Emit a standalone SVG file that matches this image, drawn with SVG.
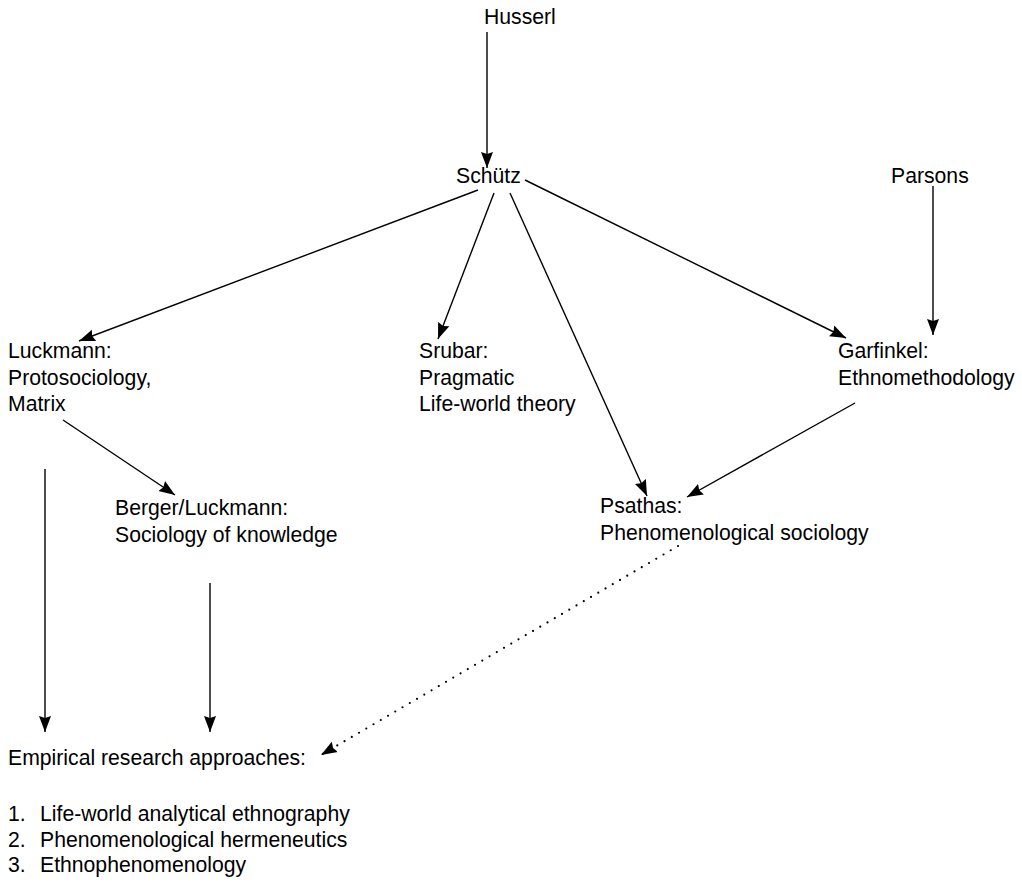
<svg xmlns="http://www.w3.org/2000/svg" width="1022" height="883" viewBox="0 0 1022 883">
<style>
text{font-family:"Liberation Sans",Arial,Helvetica,sans-serif;font-size:21.2px;fill:#000}
.c{stroke:#000;stroke-width:1.4;fill:none;marker-end:url(#ah)}
.d{stroke:#000;stroke-width:2.2;fill:none;stroke-linecap:round;stroke-dasharray:0 8.4;marker-end:url(#ah)}
</style>
<defs>
<marker id="ah" markerUnits="userSpaceOnUse" markerWidth="17" markerHeight="13" viewBox="0 0 17 13" refX="16" refY="6.5" orient="auto">
<path d="M0,0.5 L16,6.5 L0,12.5 L2,6.5 z" fill="#000"/>
</marker>
</defs>
<rect width="1022" height="883" fill="#fff"/>
<g id="connectors">
<line class="c" x1="487" y1="32" x2="487" y2="168"/>
<line class="c" x1="478" y1="190" x2="79" y2="341"/>
<line class="c" x1="494" y1="193" x2="438" y2="339"/>
<line class="c" x1="510" y1="193" x2="647" y2="496"/>
<line class="c" x1="525" y1="180" x2="846" y2="338"/>
<line class="c" x1="933" y1="186" x2="933" y2="335"/>
<line class="c" x1="855" y1="403" x2="687" y2="497"/>
<line class="c" x1="63" y1="420" x2="175" y2="495"/>
<line class="c" x1="45" y1="469" x2="45" y2="732"/>
<line class="c" x1="210" y1="583" x2="210" y2="732"/>
<line class="d" x1="678" y1="546" x2="321" y2="755"/>
</g>
<g id="husserl"><text x="484" y="24">Husserl</text></g>
<g id="schuetz"><text x="456" y="183">Schütz</text></g>
<g id="parsons"><text x="891" y="183">Parsons</text></g>
<g id="luckmann"><text x="8" y="358">Luckmann:</text><text x="8" y="384.5">Protosociology,</text><text x="8" y="411">Matrix</text></g>
<g id="srubar"><text x="419" y="358">Srubar:</text><text x="419" y="384.5">Pragmatic</text><text x="419" y="411">Life-world theory</text></g>
<g id="garfinkel"><text x="838" y="358">Garfinkel:</text><text x="838" y="384.5">Ethnomethodology</text></g>
<g id="berger"><text x="115" y="515">Berger/Luckmann:</text><text x="115" y="541.5">Sociology of knowledge</text></g>
<g id="psathas"><text x="600" y="513">Psathas:</text><text x="600" y="539.5">Phenomenological sociology</text></g>
<g id="empirical"><text x="8" y="765">Empirical research approaches:</text>
<text x="8" y="821">1.</text><text x="40" y="821">Life-world analytical ethnography</text>
<text x="8" y="846.5">2.</text><text x="40" y="846.5">Phenomenological hermeneutics</text>
<text x="8" y="872">3.</text><text x="40" y="872">Ethnophenomenology</text></g>
</svg>
